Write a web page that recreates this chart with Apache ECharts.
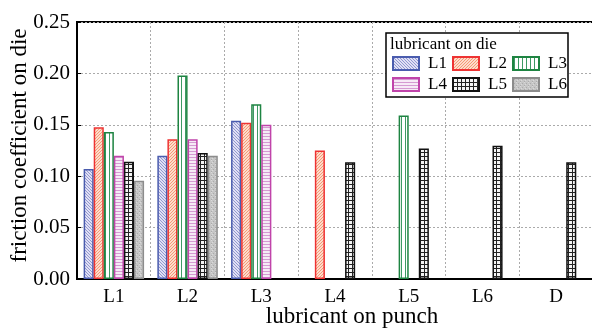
<!DOCTYPE html>
<html>
<head>
<meta charset="utf-8">
<script src="https://cdn.jsdelivr.net/npm/echarts@6/dist/echarts.min.js"></script>
<style>
  html, body { margin: 0; padding: 0; background: #fff; }
  #chart { width: 592px; height: 328px; }
</style>
</head>
<body>
<div id="chart"></div>
<script>
// lubricant on punch (x categories)
const categories = ['L1', 'L2', 'L3', 'L4', 'L5', 'L6', 'D'];
// lubricant on die (series)
const dieNames = ['L1', 'L2', 'L3', 'L4', 'L5', 'L6'];
const dieL1 = [0.107, 0.120, 0.154, null, null, null, null];
const dieL2 = [0.1475, 0.136, 0.152, 0.125, null, null, null];
const dieL3 = [0.143, 0.198, 0.170, null, 0.159, null, null];
const dieL4 = [0.120, 0.136, 0.150, null, null, null, null];
const dieL5 = [0.114, 0.1225, null, 0.1135, 0.127, 0.1295, 0.1135];
const dieL6 = [0.0955, 0.120, null, null, null, null, null];
const yTicks = [0, 0.05, 0.10, 0.15, 0.20, 0.25];

const FONT = '"Liberation Serif", "Times New Roman", serif';

function makePattern(draw, w, h) {
  const c = document.createElement('canvas');
  c.width = w; c.height = h;
  draw(c.getContext('2d'), w, h);
  return { image: c, repeat: 'repeat' };
}

const patterns = [
  // L1 blue diagonal hatch
  makePattern((g, w, h) => {
    g.fillStyle = '#e0e0f4'; g.fillRect(0, 0, w, h);
    g.strokeStyle = '#9297d0'; g.lineWidth = 1;
    g.beginPath();
    for (let k = -h; k < w + h; k += 3) { g.moveTo(k, 0); g.lineTo(k + h, h); }
    g.stroke();
  }, 6, 6),
  // L2 salmon diagonal hatch
  makePattern((g, w, h) => {
    g.fillStyle = '#fddccc'; g.fillRect(0, 0, w, h);
    g.strokeStyle = '#f49a76'; g.lineWidth = 1;
    g.beginPath();
    for (let k = -h; k < w + h; k += 3) { g.moveTo(k + h, 0); g.lineTo(k, h); }
    g.stroke();
  }, 6, 6),
  // L3 green vertical stripes
  makePattern((g, w, h) => {
    g.fillStyle = '#ffffff'; g.fillRect(0, 0, w, h);
    g.fillStyle = '#3d9a64'; g.fillRect(1, 0, 1, h);
  }, 4, 4),
  // L4 magenta horizontal stripes
  makePattern((g, w, h) => {
    g.fillStyle = '#f6eaf6'; g.fillRect(0, 0, w, h);
    g.fillStyle = '#d59ad2'; g.fillRect(0, 1, w, 1);
  }, 4, 3),
  // L5 black grid
  makePattern((g, w, h) => {
    g.fillStyle = '#f4f4f4'; g.fillRect(0, 0, w, h);
    g.fillStyle = '#222'; g.fillRect(0, 0, w, 1); g.fillRect(0, 0, 1, h);
  }, 4, 4),
  // L6 grey texture
  makePattern((g, w, h) => {
    g.fillStyle = '#c6c6c6'; g.fillRect(0, 0, w, h);
    g.fillStyle = '#ababab'; g.fillRect(1, 1, 1, 1); g.fillRect(3, 3, 1, 1);
    g.fillStyle = '#dadada'; g.fillRect(3, 0, 1, 1); g.fillRect(0, 2, 1, 1);
  }, 4, 4)
];
const borders = ['#4a5cae', '#ee3333', '#1e8442', '#c044aa', '#111111', '#8c8c8c'];
const seriesData = [dieL1, dieL2, dieL3, dieL4, dieL5, dieL6];

const chart = echarts.init(document.getElementById('chart'), null, { renderer: 'canvas' });

const option = {
  animation: false,
  textStyle: { fontFamily: FONT },
  grid: {
    left: 77, top: 22, width: 516, bottom: 49,
    outerBoundsMode: 'none', containLabel: false,
    show: true, borderColor: '#000', borderWidth: 2, backgroundColor: 'transparent'
  },
  graphic: [{
    type: 'text', left: 390, top: 36, z: 100,
    style: { text: 'lubricant on die', font: '17px "Liberation Serif", serif', fill: '#000' }
  }],
  legend: {
    data: dieNames,
    left: 386, top: 33, width: 176,
    padding: [22, 0, 4, 6],
    borderColor: '#000', borderWidth: 1.5, backgroundColor: '#fff',
    icon: 'rect',
    itemWidth: 26, itemHeight: 13, itemGap: 4,
    textStyle: { fontFamily: FONT, fontSize: 17, color: '#000', width: 20, lineHeight: 15, padding: [0, 0, 0, 4] }
  },
  xAxis: {
    type: 'category',
    data: categories,
    name: 'lubricant on punch',
    nameLocation: 'middle',
    nameGap: 26,
    nameMoveOverlap: false,
    nameTextStyle: { fontFamily: FONT, fontSize: 23, color: '#000', padding: [0, 0, 0, 34] },
    axisLine: { lineStyle: { color: '#000', width: 2 } },
    axisTick: { show: false },
    axisLabel: { margin: 9, color: '#000', fontFamily: FONT, fontSize: 19 },
    splitLine: { show: true, lineStyle: { type: [2, 2], color: '#aaa' } }
  },
  yAxis: {
    type: 'value',
    min: yTicks[0], max: yTicks[yTicks.length - 1], interval: 0.05,
    name: 'friction coefficient on die',
    nameLocation: 'middle',
    nameGap: 46,
    nameMoveOverlap: false,
    nameTextStyle: { fontFamily: FONT, fontSize: 23, color: '#000', padding: [0, 0, 0, 10] },
    axisLine: { show: true, lineStyle: { color: '#000', width: 2 } },
    axisTick: { show: true, inside: true, length: 4, lineStyle: { color: '#000' } },
    axisLabel: {
      margin: 7, color: '#000', fontFamily: FONT, fontSize: 21,
      formatter: v => v.toFixed(2)
    },
    splitLine: { show: true, lineStyle: { type: [2, 2], color: '#aaa' } }
  },
  series: dieNames.map((n, i) => ({
    name: n,
    type: 'bar',
    data: seriesData[i],
    barGap: '0%',
    barCategoryGap: '18%',
    itemStyle: { color: patterns[i], borderColor: borders[i], borderWidth: 1.5 }
  }))
};

chart.setOption(option);
</script>
</body>
</html>
